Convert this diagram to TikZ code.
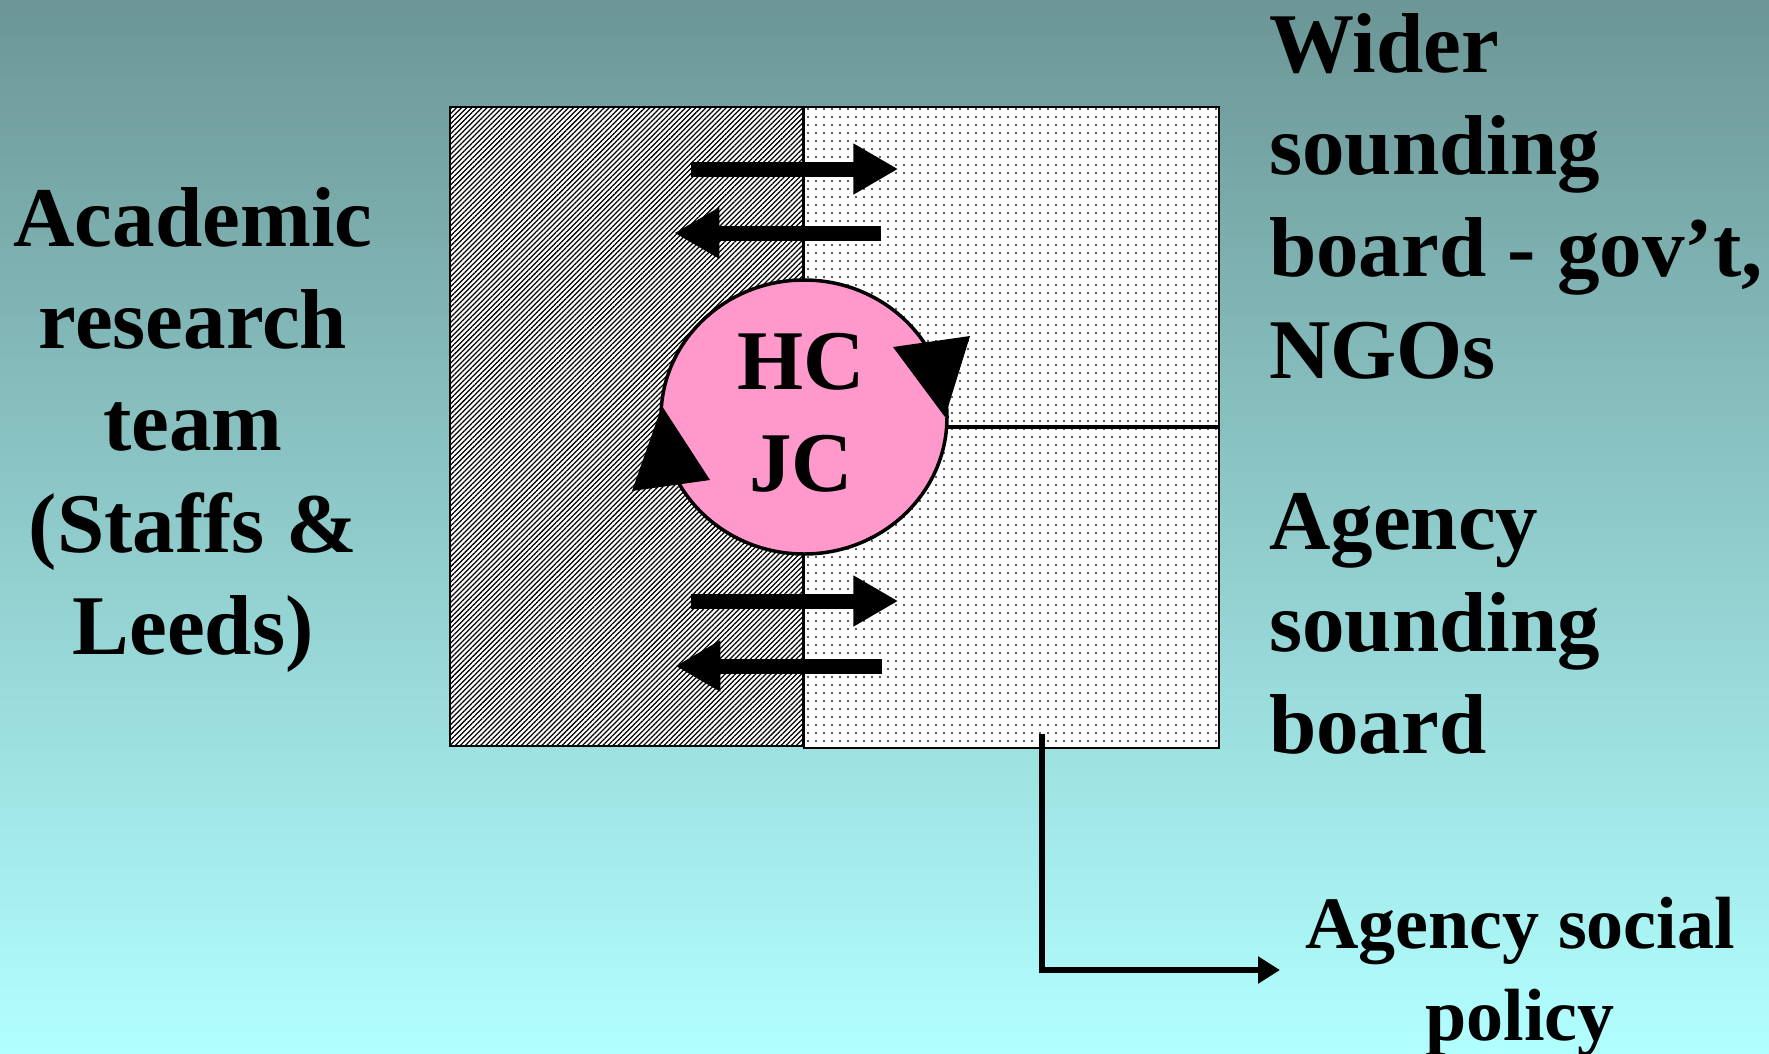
\documentclass[tikz,border=0pt]{standalone}
\usepackage{fontspec}
\setmainfont{Liberation Serif}
\usepackage{tikz}
\usetikzlibrary{positioning, arrows.meta, shapes.geometric, patterns.meta}
\definecolor{bgTop}{RGB}{108, 150, 150}
\definecolor{bgBottom}{RGB}{178, 255, 255}
\definecolor{hubPink}{RGB}{255, 153, 204}
\definecolor{dotGray}{RGB}{40, 40, 40}

\begin{document}
\begin{tikzpicture}[
    x=1pt, y=-1pt,
    every node/.style={font=\fontsize{85}{102}\selectfont\bfseries, inner sep=0pt},
    panel/.style={
        rectangle, draw=black, line width=2pt, preaction={fill=white}
    },
    hatchpanel/.style={panel, pattern={Lines[angle=45, distance=3.6pt, line width=1.25pt]}, pattern color=black},
    dotpanel/.style={panel, pattern={Dots[distance=8pt, radius=1.15pt]}, pattern color=dotGray},
    flow/.style={line width=15pt, -{Triangle[length=45pt, width=48pt]}},
    outflow/.style={line width=6pt, -{Triangle[length=22pt, width=26pt]}}
]

% --- Background -------------------------------------------------------------
\useasboundingbox (0,0) rectangle (1769,1053);
\shade[top color=bgTop, bottom color=bgBottom] (0,0) rectangle (1769,1053);

% --- Panels -----------------------------------------------------------------
\node[hatchpanel, anchor=north west, minimum width=353pt, minimum height=639pt] (team) at (449,106) {};
\node[dotpanel, anchor=north west, minimum width=415pt, minimum height=319pt] (wider) at (team.north east) {};
\node[dotpanel, minimum width=415pt, minimum height=320pt, below=0pt of wider] (agency) {};

% --- Exchange arrows across the divider ---------------------------------------
\draw[flow] ([shift={(-112,63)}]team.north east) -- ([shift={(95,63)}]team.north east);
\draw[flow] ([shift={(78,127)}]team.north east) -- ([shift={(-129,127)}]team.north east);
\draw[flow] ([shift={(-112,495)}]team.north east) -- ([shift={(95,495)}]team.north east);
\draw[flow] ([shift={(79,560)}]team.north east) -- ([shift={(-128,560)}]team.north east);

% --- HC / JC hub with its circular arrow heads ---------------------------------
\node[ellipse, draw=black, line width=3.5pt, fill=hubPink,
      minimum width=286pt, minimum height=274pt] (hub) at (804,417) {};
\node[align=center] (hubLabel) at ([shift={(-3,-4)}]hub.center) {HC\\JC};
\fill (632,491) -- (662,406) -- (710,480) -- cycle;
\fill (970,336) -- (893,347) -- (945,417) -- cycle;

% --- Labels -------------------------------------------------------------------
\node[align=center] (teamLabel) at (193,430) {Academic\\research\\team\\(Staffs \&\\Leeds)};
\node[align=left, anchor=west] (widerLabel) at (1269,196) {Wider\\sounding\\board - gov’t,\\NGOs};
\node[align=left, anchor=west] (agencyLabel) at (1269,624) {Agency\\sounding\\board};
\node[align=center, font=\fontsize{74}{92}\selectfont\bfseries] (policyLabel) at (1520,977) {Agency social\\policy};

% --- Output to policy ---------------------------------------------------------
\coordinate (policyTip) at (1280,970);
\draw[outflow] ([shift={(239,-15)}]agency.south west) |- (policyTip);

\end{tikzpicture}
\end{document}
